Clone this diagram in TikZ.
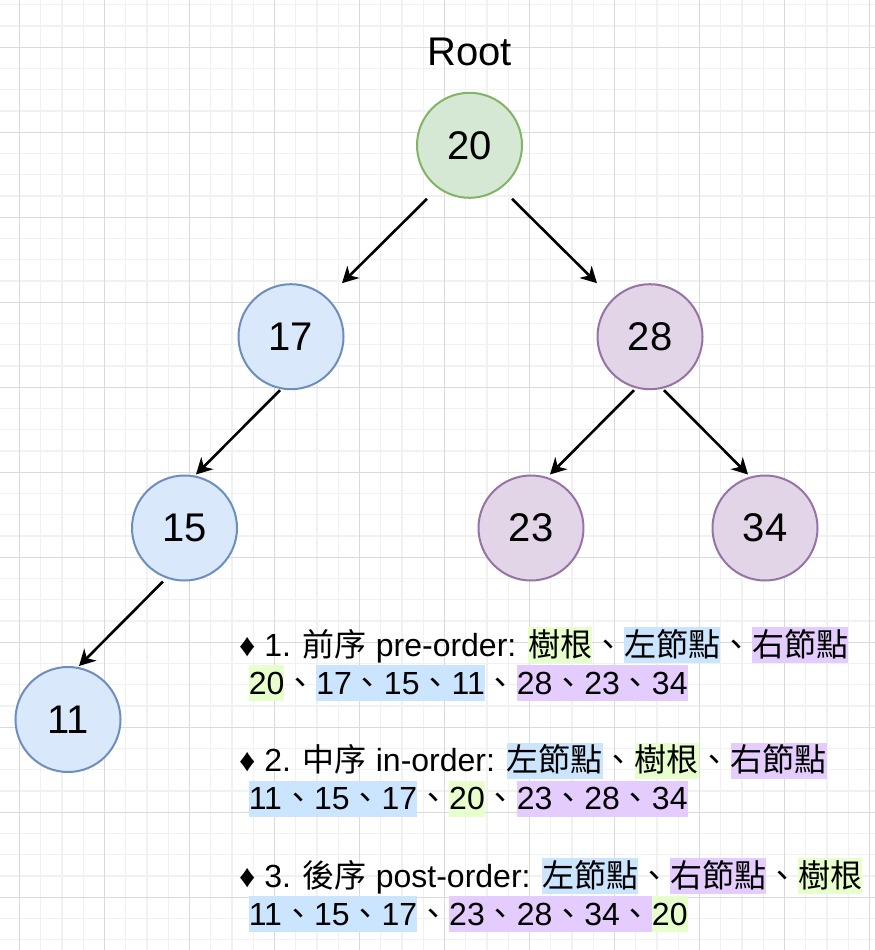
\documentclass[tikz,border=0pt]{standalone}
\usepackage{fontspec}
\setmainfont{Liberation Sans}
\newfontfamily\cjk{Noto Sans CJK TC}
\usepackage{tikz}
\usetikzlibrary{arrows.meta,positioning}
\definecolor{gridmaj}{HTML}{DADADA}
\definecolor{gridmin}{HTML}{F1F1F1}
\definecolor{rootfill}{HTML}{D5E8D4}
\definecolor{rootline}{HTML}{82B366}
\definecolor{leftfill}{HTML}{DAE8FC}
\definecolor{leftline}{HTML}{6C8EBF}
\definecolor{rightfill}{HTML}{E1D5E7}
\definecolor{rightline}{HTML}{9673A6}
\definecolor{hlg}{HTML}{E6FFCC}
\definecolor{hlb}{HTML}{CCE5FF}
\definecolor{hlp}{HTML}{E5CCFF}
\newcommand{\bigtxt}{\fontsize{40}{48}\selectfont}
\newcommand{\midtxt}{\fontsize{32}{38}\selectfont}
\newcommand{\dun}{{\cjk 、}}
\newcommand{\hlt}[2]{{\setlength{\fboxsep}{0pt}\colorbox{#1}{\rule[-7pt]{0pt}{36pt}#2}}}
\tikzset{
  nd/.style={circle,draw,line width=2pt,minimum size=105pt,inner sep=0pt,font=\bigtxt},
  rootnd/.style={nd,fill=rootfill,draw=rootline},
  lnd/.style={nd,fill=leftfill,draw=leftline},
  rnd/.style={nd,fill=rightfill,draw=rightline},
  fl/.style={-{Stealth[length=16pt,width=17pt,inset=5pt]},line width=2.6pt},
  ord/.style={font=\midtxt,align=left,inner sep=0pt,anchor=north west},
  minln/.style={gridmin,line width=1.2pt},
  majln/.style={gridmaj,line width=1.2pt},
}
\begin{document}
\begin{tikzpicture}[x=1pt,y=-1pt]
  \useasboundingbox (0,0) rectangle (875,950);
  % grid paper
  \begin{scope}
    \clip (0,0) rectangle (875,950);
    \foreach \i in {-1,...,41} \draw[minln] ({19.5+21.25*\i},0) -- ({19.5+21.25*\i},950);
    \foreach \j in {-3,...,43} \draw[minln] (0,{47.3+21.25*\j}) -- (875,{47.3+21.25*\j});
    \foreach \i in {0,...,10} \draw[majln] ({19.5+85*\i},0) -- ({19.5+85*\i},950);
    \foreach \j in {-1,...,10} \draw[majln] (0,{47.3+85*\j}) -- (875,{47.3+85*\j});
  \end{scope}
  % tree
  \node[rootnd] (n20) at (469.5,145.3) {20};
  \node[font=\bigtxt,above=26pt of n20,anchor=base] (root) {Root};
  \node[lnd] (n17) at (291,336.7) {17};
  \node[rnd] (n28) at (650,336.7) {28};
  \node[lnd] (n15) at (184.5,528) {15};
  \node[rnd] (n23) at (531,528) {23};
  \node[rnd] (n34) at (765,528) {34};
  \node[lnd] (n11) at (68,719.5) {11};
  \draw[fl] ([xshift=-42.5pt]n20.south) -- ([xshift=51pt]n17.north);
  \draw[fl] ([xshift=42.5pt]n20.south) -- ([xshift=-53pt]n28.north);
  \draw[fl] ([xshift=-11pt]n17.south) -- ([xshift=11.5pt]n15.north);
  \draw[fl] ([xshift=-16pt]n28.south) -- ([xshift=19pt]n23.north);
  \draw[fl] ([xshift=14pt]n28.south) -- ([xshift=-17pt]n34.north);
  \draw[fl] ([xshift=-21.5pt]n15.south) -- ([xshift=11pt]n11.north);
  % traversal orders
  \node[ord] (preord) at (239,627) {♦ 1. {\cjk 前序} pre-order: \hlt{hlg}{\cjk 樹根}\dun\hlt{hlb}{\cjk 左節點}\dun\hlt{hlp}{\cjk 右節點}\\
    \hspace*{0.3em}\hlt{hlg}{20}\dun\hlt{hlb}{17\dun15\dun11}\dun\hlt{hlp}{28\dun23\dun34}};
  \node[ord,below=41pt of preord.south west,anchor=north west] (inord) {♦ 2. {\cjk 中序} in-order: \hlt{hlb}{\cjk 左節點}\dun\hlt{hlg}{\cjk 樹根}\dun\hlt{hlp}{\cjk 右節點}\\
    \hspace*{0.3em}\hlt{hlb}{11\dun15\dun17}\dun\hlt{hlg}{20}\dun\hlt{hlp}{23\dun28\dun34}};
  \node[ord,below=41pt of inord.south west,anchor=north west] (postord) {♦ 3. {\cjk 後序} post-order: \hlt{hlb}{\cjk 左節點}\dun\hlt{hlp}{\cjk 右節點}\dun\hlt{hlg}{\cjk 樹根}\\
    \hspace*{0.3em}\hlt{hlb}{11\dun15\dun17}\dun\hlt{hlp}{23\dun28\dun34\dun}\hlt{hlg}{20}};
\end{tikzpicture}
\end{document}
